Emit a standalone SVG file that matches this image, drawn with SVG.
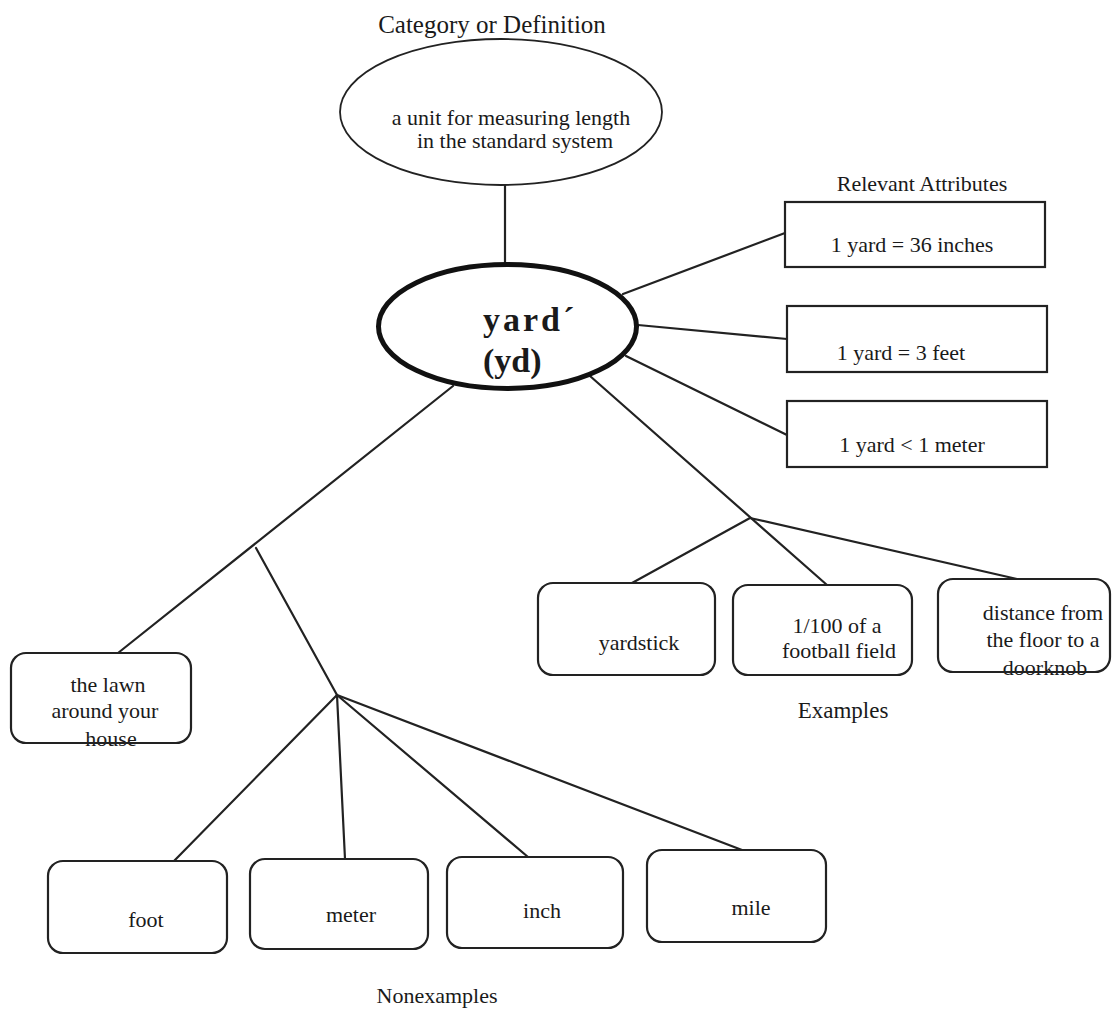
<svg xmlns="http://www.w3.org/2000/svg" width="1112" height="1010" viewBox="0 0 1112 1010">
<style>
  text { font-family: "Liberation Serif", "Times New Roman", serif; fill: #1a1a1a; }
  .lbl { font-size: 23px; text-anchor: middle; }
  .t { font-size: 22px; text-anchor: middle; }
  .box { fill: #fff; stroke: #222; stroke-width: 2.2; }
  .conn line { stroke: #222; stroke-width: 2.2; stroke-linecap: round; }
  .big { font-size: 34px; font-weight: bold; }
</style>
<rect width="1112" height="1010" fill="#fff"/>

<g class="conn" id="connectors">
  <line x1="505" y1="185" x2="505" y2="264"/>
  <line x1="623" y1="294" x2="785" y2="233"/>
  <line x1="638" y1="325" x2="787" y2="339"/>
  <line x1="626" y1="356" x2="787" y2="435"/>
  <line x1="590" y1="376" x2="827" y2="585"/>
  <line x1="750" y1="518" x2="632" y2="583"/>
  <line x1="750" y1="518" x2="1017" y2="579"/>
  <line x1="453" y1="386" x2="118" y2="653"/>
  <line x1="256" y1="548" x2="337" y2="695"/>
  <line x1="337" y1="695" x2="174" y2="861"/>
  <line x1="337" y1="695" x2="345" y2="859"/>
  <line x1="337" y1="695" x2="528" y2="857"/>
  <line x1="337" y1="695" x2="742" y2="850"/>
</g>

<text class="lbl" x="492" y="33" style="font-size:25px">Category or Definition</text>
<text class="lbl" x="922" y="191" style="font-size:22px">Relevant Attributes</text>
<text class="lbl" x="843" y="718">Examples</text>
<text class="lbl" x="437" y="1003" style="font-size:22px">Nonexamples</text>

<g id="definition">
  <ellipse class="box" cx="501" cy="112" rx="161" ry="73" style="stroke-width:1.8"/>
  <text class="t" x="511" y="125">a unit for measuring length</text>
  <text class="t" x="515" y="148">in the standard system</text>
</g>

<g id="yard">
  <ellipse cx="507.5" cy="326.5" rx="129" ry="62" fill="#fff" stroke="#111" stroke-width="5"/>
  <text class="big" x="483" y="331" style="letter-spacing:3px">yard´</text>
  <text class="big" x="483" y="372">(yd)</text>
</g>

<g id="attr1">
  <rect class="box" x="785" y="202" width="260" height="65"/>
  <text class="t" x="912" y="252">1 yard = 36 inches</text>
</g>
<g id="attr2">
  <rect class="box" x="787" y="306" width="260" height="66"/>
  <text class="t" x="901" y="360">1 yard = 3 feet</text>
</g>
<g id="attr3">
  <rect class="box" x="787" y="401" width="260" height="66"/>
  <text class="t" x="912" y="452">1 yard &lt; 1 meter</text>
</g>

<g id="ex-yardstick">
  <rect class="box" x="538" y="583" width="177" height="92" rx="15"/>
  <text class="t" x="639" y="650">yardstick</text>
</g>
<g id="ex-football">
  <rect class="box" x="733" y="585" width="179" height="90" rx="15"/>
  <text class="t" x="837" y="633">1/100 of a</text>
  <text class="t" x="839" y="658">football field</text>
</g>
<g id="ex-doorknob">
  <rect class="box" x="938" y="579" width="172" height="93" rx="15"/>
  <text class="t" x="1043" y="620">distance from</text>
  <text class="t" x="1043" y="647">the floor to a</text>
  <text class="t" x="1045" y="675">doorknob</text>
  <line x1="950" y1="672" x2="1098" y2="672" stroke="#222" stroke-width="2.2"/>
</g>

<g id="nonex-lawn">
  <rect class="box" x="11" y="653" width="180" height="90" rx="15"/>
  <text class="t" x="108" y="692">the lawn</text>
  <text class="t" x="105" y="718">around your</text>
  <text class="t" x="111" y="746">house</text>
  <line x1="24" y1="743" x2="178" y2="743" stroke="#222" stroke-width="2.2"/>
</g>

<g id="nonex-foot">
  <rect class="box" x="48" y="861" width="179" height="92" rx="15"/>
  <text class="t" x="146" y="927">foot</text>
</g>
<g id="nonex-meter">
  <rect class="box" x="250" y="859" width="178" height="90" rx="15"/>
  <text class="t" x="351" y="922">meter</text>
</g>
<g id="nonex-inch">
  <rect class="box" x="447" y="857" width="176" height="91" rx="15"/>
  <text class="t" x="542" y="918">inch</text>
</g>
<g id="nonex-mile">
  <rect class="box" x="647" y="850" width="179" height="92" rx="15"/>
  <text class="t" x="751" y="915">mile</text>
</g>
</svg>
